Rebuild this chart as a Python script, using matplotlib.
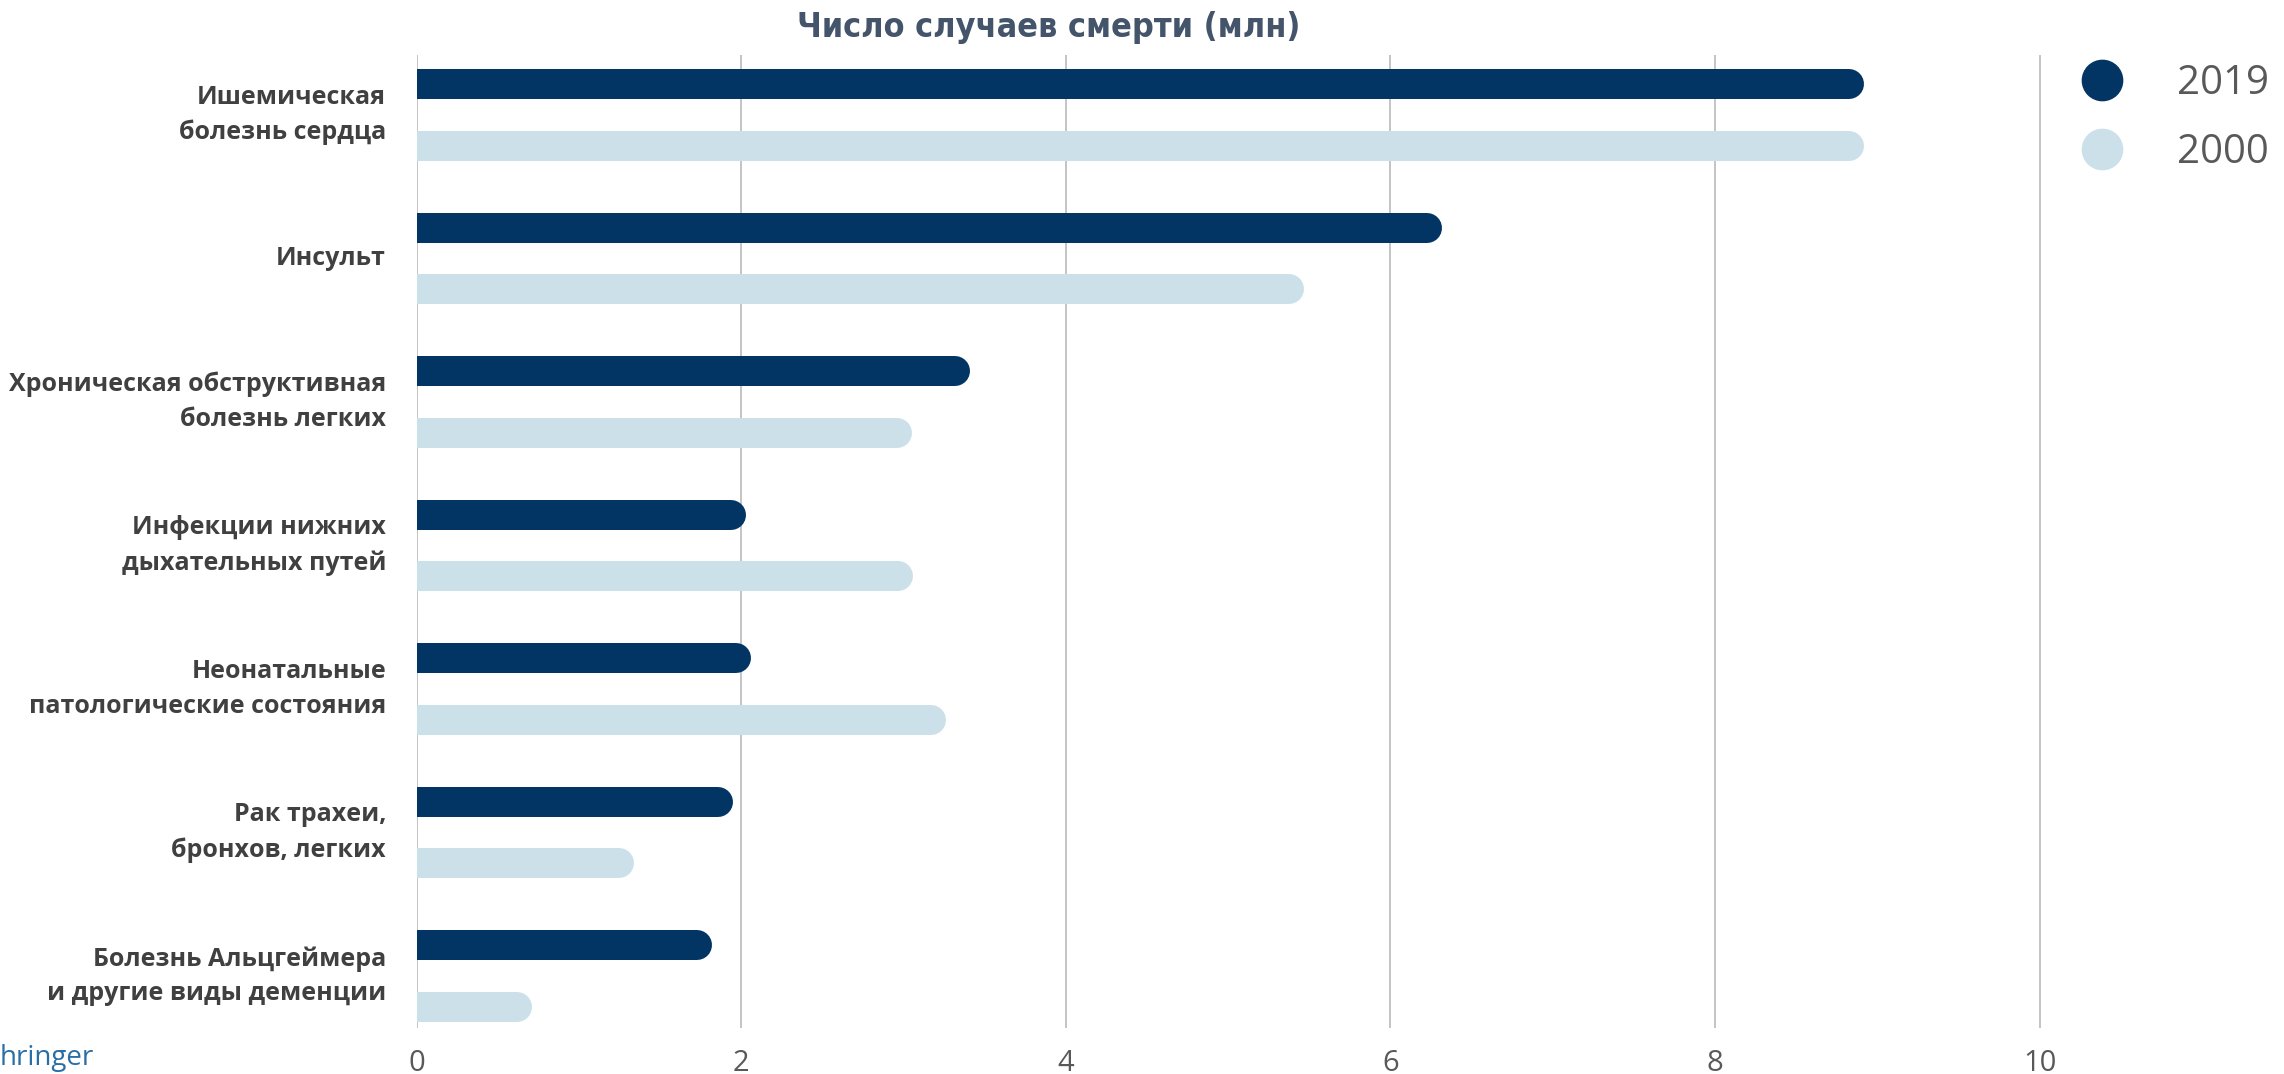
import matplotlib
matplotlib.use("Agg")
import matplotlib.pyplot as plt
import matplotlib.transforms as mtransforms
from matplotlib.lines import Line2D

# Causes of death, millions of deaths
CAUSES = [
    "Ишемическая\nболезнь сердца",
    "Инсульт",
    "Хроническая обструктивная\nболезнь легких",
    "Инфекции нижних\nдыхательных путей",
    "Неонатальные\nпатологические состояния",
    "Рак трахеи,\nбронхов, легких",
    "Болезнь Альцгеймера\nи другие виды деменции",
]
DEATHS_2019 = [8.92, 6.32, 3.41, 2.03, 2.06, 1.95, 1.82]
DEATHS_2000 = [8.92, 5.47, 3.05, 3.06, 3.26, 1.34, 0.71]
YEARS = ["2019", "2000"]
X_TICKS = [0, 2, 4, 6, 8, 10]

DARK = "#023464"
LIGHT = "#CCE0E9"
GRID = "#C4C4C4"
BAR_LW = 21.6  # points, ~30 px at dpi 100
OFFSET = 0.215

fig = plt.figure(figsize=(22.84, 10.74), dpi=100)
ax = fig.add_axes([416.6 / 2284, 1 - 1028 / 1074, (2037.8 - 416.6) / 2284 + 0.0015, (1028 - 55) / 1074])

# shift each line left by its cap radius so the rounded end lands on the value
shift = mtransforms.offset_copy(ax.transData, fig=fig, x=-BAR_LW / 2, y=0, units="points")

for i, (v19, v00) in enumerate(zip(DEATHS_2019, DEATHS_2000)):
    ax.plot([-1, v19], [i - OFFSET, i - OFFSET], color=DARK, lw=BAR_LW,
            solid_capstyle="round", transform=shift, zorder=3)
    ax.plot([-1, v00], [i + OFFSET, i + OFFSET], color=LIGHT, lw=BAR_LW,
            solid_capstyle="round", transform=shift, zorder=3)

ax.set_xlim(0, 10.01)
ax.set_ylim(6.362, -0.417)

ax.set_xticks(X_TICKS)
ax.set_xticklabels([str(t) for t in X_TICKS], fontsize=21, color="#595959",
                   family=["Open Sans", "DejaVu Sans"])
ax.set_yticks(range(len(CAUSES)))
ax.set_yticklabels(CAUSES, fontsize=18, fontweight="bold", color="#404040",
                   family=["Open Sans", "DejaVu Sans"], linespacing=1.5, va="center")
ax.tick_params(axis="both", length=0)
ax.tick_params(axis="y", pad=22)
ax.tick_params(axis="x", pad=15)

ax.grid(axis="x", color=GRID, lw=1.4, zorder=0)
ax.set_axisbelow(True)
for side in ["top", "right", "bottom", "left"]:
    ax.spines[side].set_visible(False)

fig.text(0.459, 1 - 27 / 1074, "Число случаев смерти (млн)", ha="center", va="center",
         fontsize=24.5, fontweight="bold", color="#44546A",
         family=["Liberation Sans Narrow", "DejaVu Sans"], fontstretch="condensed")

handles = [Line2D([], [], marker="o", linestyle="none", markersize=29,
                  markerfacecolor=c, markeredgecolor=c) for c in (DARK, LIGHT)]
fig.legend(handles, YEARS, loc="upper left", bbox_to_anchor=(2058 / 2284, 1 - 43 / 1074),
           frameon=False, labelcolor="#595959", handletextpad=1.25,
           labelspacing=0.72, borderpad=0, handlelength=1.2,
           prop={"family": ["Open Sans", "DejaVu Sans"], "size": 29})

# logo text at the bottom left corner
fig.text(0.0, 2 / 1074, "hringer", ha="left", va="bottom", fontsize=20,
         color="#2A6EA6", family=["Open Sans", "DejaVu Sans"])

fig.savefig("out.png", dpi=100)
